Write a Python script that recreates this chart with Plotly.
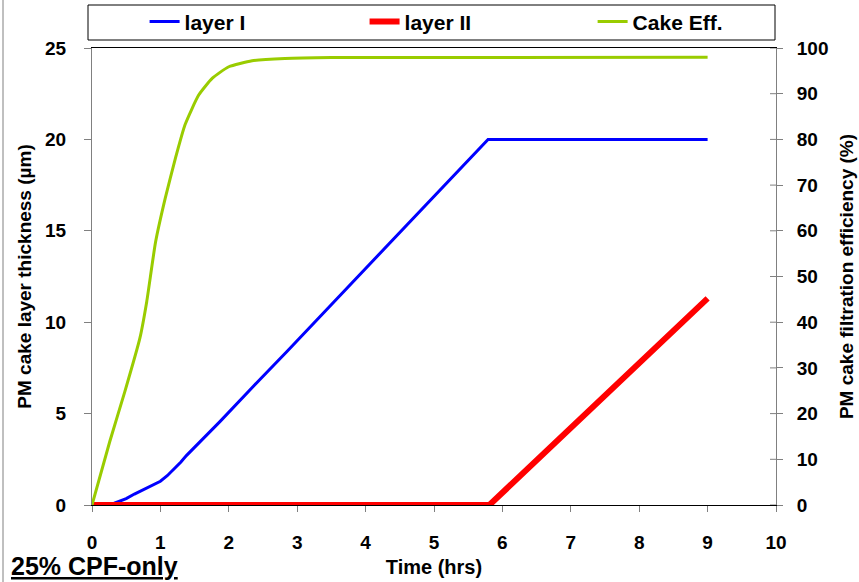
import plotly.graph_objects as go

# ---- data ----
time_layer1 = [0, 0.3, 0.33, 0.5, 0.62, 0.8, 1.0, 1.1, 1.2, 1.3, 1.38, 1.87, 2.36, 2.85, 5.79, 9.0]
layer1 = [0, 0, 0.1, 0.35, 0.6, 0.95, 1.3, 1.6, 1.95, 2.35, 2.7, 4.56, 6.5, 8.4, 20.0, 20.0]

time_layer2 = [0, 5.81, 9.0]
layer2 = [0, 0, 11.3]

time_eff = [0, 0.26, 0.48, 0.70, 0.80, 0.93, 1.07, 1.22, 1.36, 1.56, 1.76, 2.0, 2.34, 2.82, 3.5, 9.0]
cake_eff = [0, 13.9, 24.8, 36.5, 44.5, 57.6, 67.1, 75.9, 83.2, 89.7, 93.4, 95.9, 97.2, 97.7, 97.9, 98.0]

x_ticks = list(range(0, 11))
y_left_ticks = [0, 5, 10, 15, 20, 25]
y_right_ticks = list(range(0, 101, 10))

FONT = "Liberation Sans, Arial, sans-serif"

fig = go.Figure()
fig.add_trace(go.Scatter(x=time_layer1, y=layer1, mode="lines", name="layer I",
                         line=dict(color="#0000FF", width=3), legend="legend"))
fig.add_trace(go.Scatter(x=time_layer2, y=layer2, mode="lines", name="layer II",
                         line=dict(color="#FF0000", width=6), legend="legend2"))
fig.add_trace(go.Scatter(x=time_eff, y=cake_eff, mode="lines", name="Cake Eff.",
                         line=dict(color="#99CC00", width=3, shape="spline", smoothing=0.5),
                         yaxis="y2", legend="legend3"))

leg_common = dict(orientation="h", y=1.057, xanchor="left", yanchor="middle",
                  font=dict(family=FONT, size=21, color="black", weight="bold"),
                  bgcolor="rgba(0,0,0,0)")

fig.update_layout(
    width=859, height=582,
    margin=dict(l=92, r=83, t=48, b=77, autoexpand=False),
    paper_bgcolor="white", plot_bgcolor="white",
    font=dict(family=FONT, color="black", size=18),
    showlegend=True,
    legend=dict(x=0.0769, **leg_common),
    legend2=dict(x=0.3985, **leg_common),
    legend3=dict(x=0.7319, **leg_common),
    xaxis=dict(range=[0, 10], tickvals=x_ticks, ticks="outside", ticklen=6,
               tickcolor="#808080", showline=True, linecolor="black", linewidth=1,
               mirror=True, showgrid=False, zeroline=False, automargin=False,
               tickfont=dict(family=FONT, size=19, color="black", weight="bold"),
               ticklabelstandoff=14,
               title=dict(text="<b>Time (hrs)</b>", font=dict(family=FONT, size=20), standoff=8)),
    yaxis=dict(range=[0, 25], tickvals=y_left_ticks, ticks="outside", ticklen=7,
               tickcolor="#808080", showline=True, linecolor="#808080", linewidth=1,
               showgrid=False, zeroline=False, automargin=False,
               tickfont=dict(family=FONT, size=19, color="black", weight="bold"),
               ticklabelstandoff=14,
               title=dict(text="<b>PM cake layer thickness (µm)</b>", font=dict(family=FONT, size=19), standoff=8)),
    yaxis2=dict(range=[0, 100], tickvals=y_right_ticks, overlaying="y", side="right",
                ticks="outside", ticklen=6, tickcolor="#808080", showline=True,
                linecolor="#808080", linewidth=1, showgrid=False, zeroline=False,
                automargin=False,
                tickfont=dict(family=FONT, size=19, color="black", weight="bold"),
                ticklabelstandoff=10,
                title=dict(text="<b>PM cake filtration efficiency (%)</b>", font=dict(family=FONT, size=19), standoff=12)),
)

# legend box
fig.add_shape(type="rect", xref="paper", yref="paper",
              x0=(88 - 92) / 684, x1=(775 - 92) / 684,
              y0=(505 - 40) / 457, y1=(505 - 5) / 457,
              line=dict(color="black", width=1), fillcolor="rgba(0,0,0,0)")
# left outer frame line
fig.add_shape(type="line", xref="paper", yref="paper",
              x0=(3 - 92) / 684, x1=(3 - 92) / 684, y0=-77 / 457, y1=505 / 457,
              line=dict(color="#808080", width=1))
# inner halves of the crossing right-axis ticks
for v in y_right_ticks:
    fig.add_shape(type="line", xref="paper", yref="y2",
                  x0=1 - 6 / 684, x1=1, y0=v, y1=v,
                  line=dict(color="#808080", width=1))

fig.add_annotation(text="<b><u>25% CPF-only</u></b>", xref="paper", yref="paper",
                   x=(9 - 92) / 684, y=(505 - 566) / 457, xanchor="left", yanchor="middle",
                   showarrow=False, font=dict(family=FONT, size=25, color="black"))

fig.write_html("out.html")
